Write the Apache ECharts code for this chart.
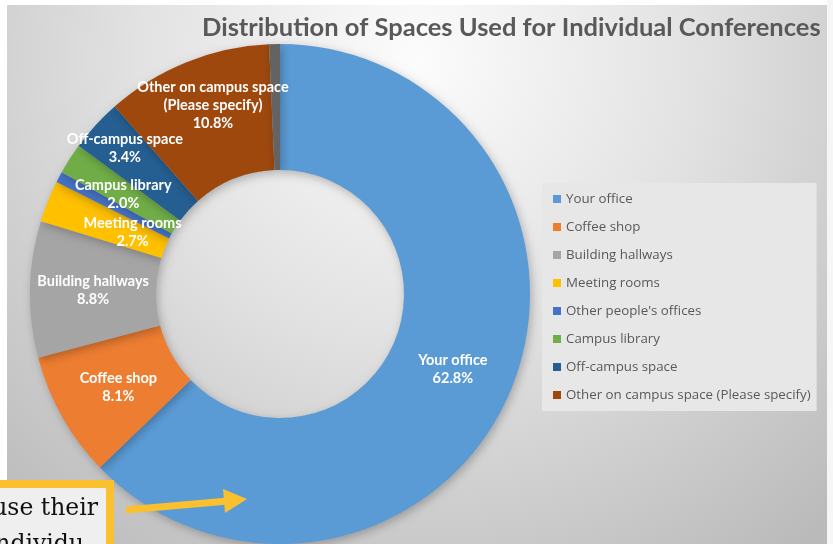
<!DOCTYPE html>
<html>
<head>
<meta charset="utf-8">
<title>Distribution of Spaces Used for Individual Conferences</title>
<script src="https://cdn.jsdelivr.net/npm/echarts@6/dist/echarts.min.js"></script>
<style>
  html, body { margin: 0; padding: 0; background: #fff; }
  #chart { width: 833px; height: 544px; }
</style>
</head>
<body>
<div id="chart"></div>
<script>
// 数据
const categories = [
  'Your office',
  'Coffee shop',
  'Building hallways',
  'Meeting rooms',
  "Other people's offices",
  'Campus library',
  'Off-campus space',
  'Other on campus space (Please specify)',
  ''
]
const percents = [62.8, 8.1, 8.8, 2.7, 0.7, 2.0, 3.4, 10.8, 0.7]
const colors = ['#5b9bd5', '#ed7d31', '#a5a5a5', '#ffc000', '#4472c4', '#70ad47', '#255e91', '#9e480e', '#636363']
const hideLabel = ["Other people's offices", '']
// 标签微调 (Excel 里手动拖过的位置)
const labelOffsets = [[-2, 1], [4, 0], [3, 0], [29, 9], [0, 0], [3, 3], [-15, -17], [4, -12], [0, 0]]

const chart = echarts.init(document.getElementById('chart'))

const seriesData = categories.map((name, i) => ({
  name: name,
  value: percents[i],
  itemStyle: { color: colors[i] },
  label: { show: hideLabel.indexOf(name) === -1, offset: labelOffsets[i] }
}))

chart.setOption({
  backgroundColor: '#ffffff',
  animation: false,
  title: {
    text: 'Distribution of Spaces Used for Individual Conferences',
    left: 197,
    top: 10,
    textStyle: {
      fontFamily: 'Lato',
      fontSize: 25.5,
      fontWeight: 'bold',
      color: '#595959'
    }
  },
  legend: {
    orient: 'vertical',
    left: 542,
    top: 183,
    padding: [9, 6, 9, 11],
    backgroundColor: '#e7e7e7',
    itemWidth: 8,
    itemHeight: 8,
    itemGap: 14,
    icon: 'rect',
    data: categories.filter((c) => c !== ''),
    textStyle: {
      fontFamily: 'Open Sans',
      fontSize: 13.3,
      lineHeight: 14,
      color: '#595959'
    }
  },
  graphic: [
    // 背景
    {
      type: 'rect',
      z: -10,
      silent: true,
      shape: { x: 7, y: 5, width: 820, height: 539 },
      style: {
        fill: {
          type: 'radial',
          x: 0.5,
          y: 0.1,
          r: 1.15,
          colorStops: [
            { offset: 0, color: '#fcfcfc' },
            { offset: 0.45, color: '#e2e2e2' },
            { offset: 1, color: '#bababa' }
          ]
        }
      }
    },
    {
      type: 'rect',
      z: -10,
      silent: true,
      shape: { x: 827, y: 0, width: 6, height: 544 },
      style: { fill: '#f6f6f6' }
    },
    // 注释框
    {
      type: 'rect',
      z: 100,
      silent: true,
      shape: { x: -10, y: 484, width: 120, height: 80 },
      style: { fill: '#efefef', stroke: '#fbc02d', lineWidth: 8 }
    },
    {
      type: 'text',
      z: 101,
      silent: true,
      style: {
        x: 98,
        y: 521,
        text: 'use their',
        align: 'right',
        verticalAlign: 'bottom',
        fontFamily: 'DejaVu Serif',
        fontSize: 23.5,
        fill: '#111'
      }
    },
    {
      type: 'text',
      z: 101,
      silent: true,
      style: {
        x: 84,
        y: 557,
        text: 'individu',
        align: 'right',
        verticalAlign: 'bottom',
        fontFamily: 'DejaVu Serif',
        fontSize: 23.5,
        fill: '#111'
      }
    },
    // 箭头
    {
      type: 'line',
      z: 100,
      silent: true,
      shape: { x1: 126, y1: 510, x2: 228, y2: 501 },
      style: { stroke: '#fbc02d', lineWidth: 7 }
    },
    {
      type: 'polygon',
      z: 100,
      silent: true,
      shape: { points: [[247, 499], [223, 489], [225, 513]] },
      style: { fill: '#fbc02d' }
    }
  ],
  series: [
    {
      type: 'pie',
      center: [280, 294],
      radius: [124, 250],
      startAngle: 90,
      clockwise: true,
      avoidLabelOverlap: false,
      labelLayout: { hideOverlap: false },
      data: seriesData,
      itemStyle: {
        shadowBlur: 10,
        shadowColor: 'rgba(0,0,0,0.25)',
        shadowOffsetX: 2,
        shadowOffsetY: 3
      },
      label: {
        position: 'inside',
        color: '#ffffff',
        fontFamily: 'Lato',
        fontWeight: 'bold',
        fontSize: 14.5,
        lineHeight: 18,
        formatter: (p) => p.name.replace(' (', '\n(') + '\n' + p.value.toFixed(1) + '%'
      },
      labelLine: { show: false },
      emphasis: { disabled: true }
    }
  ]
})

window.addEventListener('resize', () => {
  chart.resize()
})
</script>
</body>
</html>
